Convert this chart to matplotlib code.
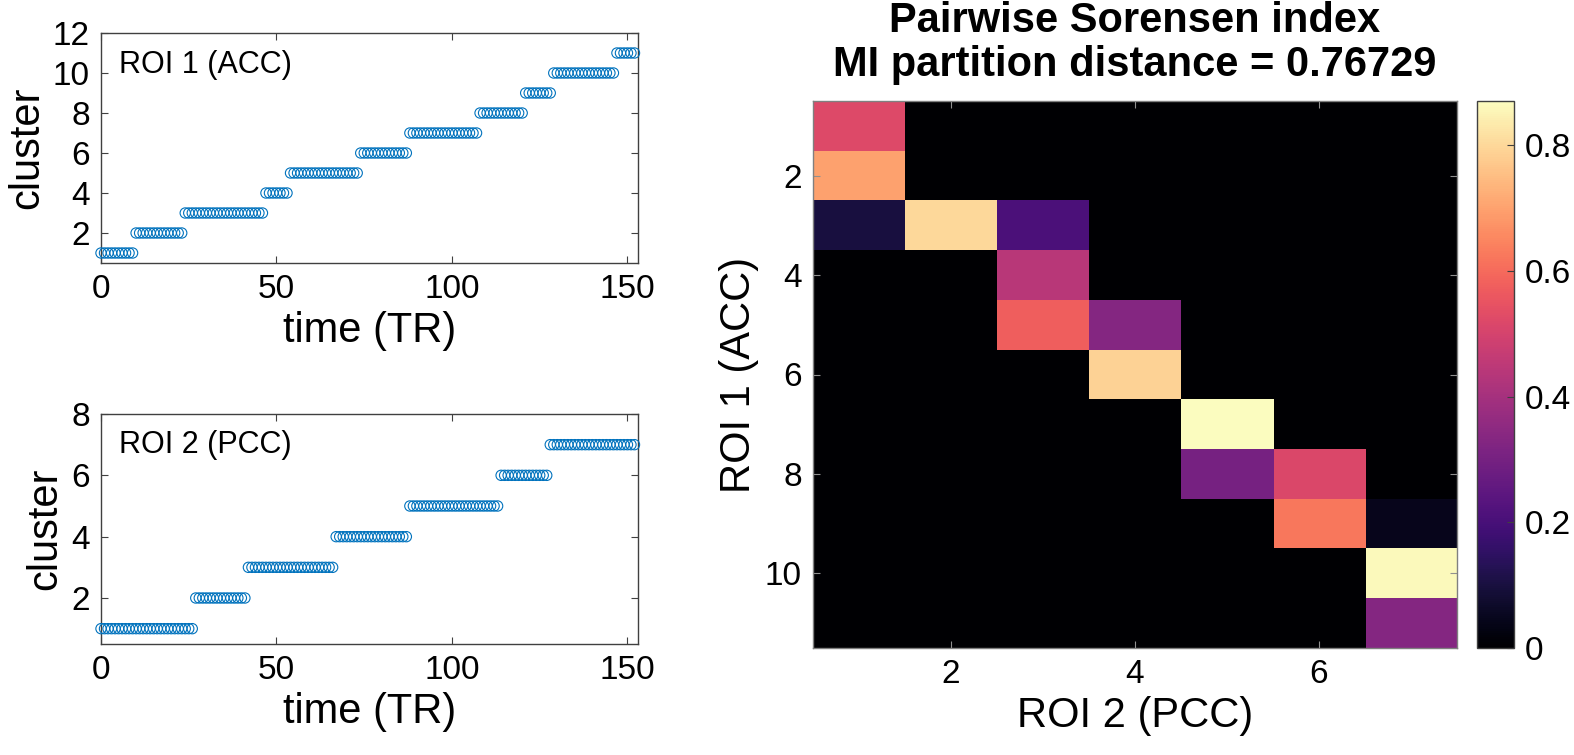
import numpy as np
import matplotlib
matplotlib.use("Agg")
import matplotlib.pyplot as plt

plt.rcParams['font.family'] = ['Liberation Sans', 'DejaVu Sans']

# ---------------- data ----------------
n_tr = 153
time_tr = np.arange(n_tr)
roi1_clusters = list(range(1, 12))
roi1_run_lengths = [10, 14, 23, 7, 20, 14, 20, 13, 8, 18, 6]
roi2_clusters = list(range(1, 8))
roi2_run_lengths = [27, 15, 25, 21, 26, 14, 25]

roi1_label = "ROI 1 (ACC)"
roi2_label = "ROI 2 (PCC)"
title_lines = ["Pairwise Sorensen index", "MI partition distance = 0.76729"]

sorensen = [
    [0.52, 0,    0,    0,    0,    0,     0],
    [0.70, 0,    0,    0,    0,    0,     0],
    [0.10, 0.80, 0.21, 0,    0,    0,     0],
    [0,    0,    0.44, 0,    0,    0,     0],
    [0,    0,    0.575, 0.33, 0,   0,     0],
    [0,    0,    0,    0.79, 0,    0,     0],
    [0,    0,    0,    0,    0.87, 0,     0],
    [0,    0,    0,    0,    0.30, 0.515, 0],
    [0,    0,    0,    0,    0,    0.625, 0.045],
    [0,    0,    0,    0,    0,    0,     0.86],
    [0,    0,    0,    0,    0,    0,     0.33],
]
cbar_ticks = [0, 0.2, 0.4, 0.6, 0.8]

roi1_seq = np.repeat(roi1_clusters, roi1_run_lengths)
roi2_seq = np.repeat(roi2_clusters, roi2_run_lengths)
S = np.array(sorensen)

# ---------------- figure ----------------
W, H = 1574, 755
fig = plt.figure(figsize=(W / 100, H / 100), dpi=100)

def fr(l, t, r, b):
    return [l / W, 1 - b / H, (r - l) / W, (b - t) / H]

blue = '#0072BD'
frame_c = '#404040'
tick_fs = 24
lab_fs = 30

def style_scatter_ax(ax):
    for s in ax.spines.values():
        s.set_color(frame_c)
        s.set_linewidth(1.0)
    ax.tick_params(direction='in', top=True, right=True, length=5, width=0.8,
                   color=frame_c, labelsize=tick_fs, pad=8)

# top-left
ax1 = fig.add_axes(fr(101, 33, 638, 263))
ax1.scatter(time_tr, roi1_seq, s=55, facecolors='none', edgecolors=blue,
            linewidths=0.8, clip_on=False, zorder=3)
ax1.set_xlim(0, 153)
ax1.set_ylim(0.5, 12)
ax1.set_xticks([0, 50, 100, 150])
ax1.set_yticks([2, 4, 6, 8, 10, 12])
ax1.set_xlabel("time (TR)", fontsize=lab_fs)
ax1.set_ylabel("cluster", fontsize=lab_fs)
ax1.text(0.034, 0.86, roi1_label, transform=ax1.transAxes, fontsize=22,
         ha='left', va='center')
style_scatter_ax(ax1)

# bottom-left
ax2 = fig.add_axes(fr(101, 414, 638, 644))
ax2.scatter(time_tr, roi2_seq, s=55, facecolors='none', edgecolors=blue,
            linewidths=0.8, clip_on=False, zorder=3)
ax2.set_xlim(0, 153)
ax2.set_ylim(0.5, 8)
ax2.set_xticks([0, 50, 100, 150])
ax2.set_yticks([2, 4, 6, 8])
ax2.set_xlabel("time (TR)", fontsize=lab_fs)
ax2.set_ylabel("cluster", fontsize=lab_fs)
ax2.text(0.034, 0.865, roi2_label, transform=ax2.transAxes, fontsize=22,
         ha='left', va='center')
style_scatter_ax(ax2)

# heatmap
ax3 = fig.add_axes(fr(813, 101, 1457, 648))
nr, nc = S.shape
im = ax3.imshow(S, cmap='magma', vmin=0, vmax=S.max(), aspect='auto',
                interpolation='nearest', extent=(0.5, nc + 0.5, nr + 0.5, 0.5))
ax3.set_xticks([2, 4, 6])
ax3.set_yticks([2, 4, 6, 8, 10])
ax3.set_xlabel(roi2_label, fontsize=lab_fs)
ax3.set_ylabel(roi1_label, fontsize=lab_fs)
for s in ax3.spines.values():
    s.set_color('#808080')
    s.set_linewidth(1.0)
ax3.tick_params(direction='in', top=True, right=True, length=5, width=0.8,
                color='#909090', labelsize=tick_fs, pad=8)

# two-line bold title, placed at measured baselines
title_x = 1135 / W
for line, base_y in zip(title_lines, [32, 76]):
    fig.text(title_x, 1 - base_y / H, line, fontsize=30, fontweight='bold',
             ha='center', va='baseline')

# colorbar
cax = fig.add_axes(fr(1477, 101, 1514, 648))
cb = fig.colorbar(im, cax=cax, ticks=cbar_ticks)
cb.ax.set_yticklabels(['0', '0.2', '0.4', '0.6', '0.8'])
cb.outline.set_edgecolor(frame_c)
cb.outline.set_linewidth(1.0)
cax.tick_params(direction='in', length=5, width=0.8, color=frame_c,
                labelsize=tick_fs, pad=8)

fig.savefig("out.png", dpi=100)
